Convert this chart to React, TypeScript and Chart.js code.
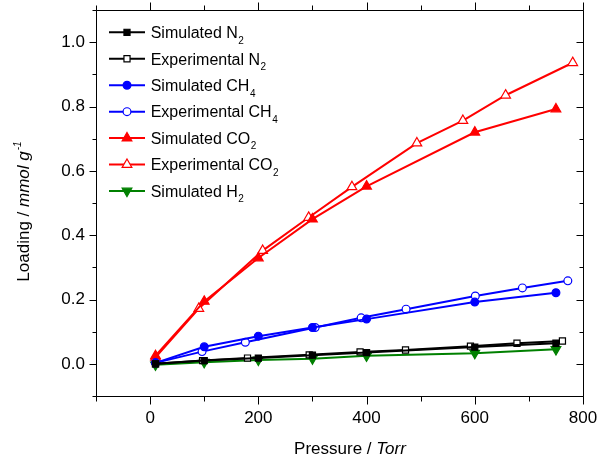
import React, { useEffect, useRef } from 'react';
import { Chart, registerables } from 'chart.js';

Chart.register(...registerables);

// ---- data ----
const simPressure = [10, 100, 200, 300, 400, 600, 750];
const simN2 = [0, 0.010, 0.018, 0.027, 0.035, 0.052, 0.064];
const simCH4 = [0.003, 0.053, 0.086, 0.113, 0.139, 0.192, 0.221];
const simCO2 = [0.025, 0.194, 0.329, 0.450, 0.552, 0.720, 0.792];
const simH2 = [-0.003, 0.005, 0.012, 0.016, 0.025, 0.033, 0.045];

const expN2Pressure = [10, 97, 180, 294, 388, 472, 592, 678, 762];
const expN2 = [0, 0.010, 0.018, 0.028, 0.037, 0.043, 0.055, 0.064, 0.071];
const expCH4Pressure = [10, 96, 176, 305, 390, 473, 601, 688, 772];
const expCH4 = [0.003, 0.038, 0.067, 0.113, 0.143, 0.170, 0.211, 0.236, 0.258];
const expCO2Pressure = [10, 90, 208, 293, 373, 493, 578, 657, 781];
const expCO2 = [0.02, 0.172, 0.352, 0.455, 0.550, 0.686, 0.756, 0.835, 0.936];

const xMajorTicks = [0, 200, 400, 600, 800];
const xMinorTicks = [-100, 100, 300, 500, 700];
const yMajorTicks = [0, 0.2, 0.4, 0.6, 0.8, 1.0];
const yMinorTicks = [-0.1, 0.1, 0.3, 0.5, 0.7, 0.9, 1.1];

const legendMain = ['Simulated N', 'Experimental N', 'Simulated CH', 'Experimental CH', 'Simulated CO', 'Experimental CO', 'Simulated H'];
const legendSub = ['2', '2', '4', '4', '2', '2', '2'];

const FONT = '"Liberation Sans", Arial, Helvetica, sans-serif';
const BLACK = '#000000';
const BLUE = '#0000ff';
const RED = '#ff0000';
const GREEN = '#008000';

const pts = (xs: number[], ys: number[]) => xs.map((x, i) => ({ x, y: ys[i] }));

type Marker = { style: string; color: string; filled: boolean; radius: number; rotation: number };

const markers: Marker[] = [
  { style: 'rect', color: BLACK, filled: true, radius: 4.3, rotation: 0 },
  { style: 'rect', color: BLACK, filled: false, radius: 4.3, rotation: 0 },
  { style: 'circle', color: BLUE, filled: true, radius: 3.9, rotation: 0 },
  { style: 'circle', color: BLUE, filled: false, radius: 3.9, rotation: 0 },
  { style: 'triangle', color: RED, filled: true, radius: 5.6, rotation: 0 },
  { style: 'triangle', color: RED, filled: false, radius: 5.6, rotation: 0 },
  { style: 'triangle', color: GREEN, filled: true, radius: 5.6, rotation: 180 },
];

const seriesData = [
  pts(simPressure, simN2),
  pts(expN2Pressure, expN2),
  pts(simPressure, simCH4),
  pts(expCH4Pressure, expCH4),
  pts(simPressure, simCO2),
  pts(expCO2Pressure, expCO2),
  pts(simPressure, simH2),
];

function drawMarker(ctx: CanvasRenderingContext2D, m: Marker, cx: number, cy: number) {
  ctx.save();
  ctx.beginPath();
  const r = m.radius;
  if (m.style === 'rect') {
    const s = Math.SQRT1_2 * r;
    ctx.rect(cx - s, cy - s, 2 * s, 2 * s);
  } else if (m.style === 'circle') {
    ctx.arc(cx, cy, r, 0, Math.PI * 2);
  } else {
    let rad = (m.rotation * Math.PI) / 180;
    for (let k = 0; k < 3; k++) {
      const px = cx + Math.sin(rad) * r;
      const py = cy - Math.cos(rad) * r;
      if (k === 0) ctx.moveTo(px, py);
      else ctx.lineTo(px, py);
      rad += (2 * Math.PI) / 3;
    }
    ctx.closePath();
  }
  ctx.fillStyle = m.filled ? m.color : '#ffffff';
  ctx.fill();
  ctx.lineWidth = 1.2;
  ctx.strokeStyle = m.color;
  ctx.stroke();
  ctx.restore();
}

const decorPlugin = {
  id: 'decor',
  afterDraw(chart: any) {
    const ctx: CanvasRenderingContext2D = chart.ctx;
    const a = chart.chartArea;
    const xs = chart.scales.x;
    const ys = chart.scales.y;
    ctx.save();
    // frame
    ctx.strokeStyle = BLACK;
    ctx.lineWidth = 1;
    const L = Math.round(a.left) + 0.5;
    const R = Math.round(a.right) + 0.5;
    const T = Math.round(a.top) + 0.5;
    const B = Math.round(a.bottom) + 0.5;
    ctx.beginPath();
    ctx.rect(L, T, R - L, B - T);
    ctx.stroke();
    // ticks
    ctx.beginPath();
    const xTick = (v: number, len: number) => {
      const px = Math.round(xs.getPixelForValue(v)) + 0.5;
      ctx.moveTo(px, B);
      ctx.lineTo(px, B + len);
      ctx.moveTo(px, T);
      ctx.lineTo(px, T - len);
    };
    const yTick = (v: number, len: number) => {
      const py = Math.round(ys.getPixelForValue(v)) + 0.5;
      ctx.moveTo(L, py);
      ctx.lineTo(L - len, py);
      ctx.moveTo(R, py);
      ctx.lineTo(R - len, py);
    };
    xMajorTicks.forEach((v) => xTick(v, 8));
    xMinorTicks.forEach((v) => xTick(v, 5));
    yMajorTicks.forEach((v) => yTick(v, 7));
    yMinorTicks.forEach((v) => yTick(v, 4));
    ctx.stroke();

    // legend
    const rowY0 = 32.3;
    const rowStep = 26.45;
    legendMain.forEach((label, i) => {
      const y = rowY0 + i * rowStep;
      const m = markers[i];
      ctx.beginPath();
      ctx.strokeStyle = m.color;
      ctx.lineWidth = 2;
      ctx.moveTo(109, y);
      ctx.lineTo(145, y);
      ctx.stroke();
      drawMarker(ctx, m, 127, y);
      ctx.fillStyle = BLACK;
      ctx.textAlign = 'left';
      ctx.textBaseline = 'alphabetic';
      ctx.font = `16px ${FONT}`;
      const base = y + 5.8;
      ctx.fillText(label, 150.7, base);
      const w = ctx.measureText(label).width;
      ctx.font = `10px ${FONT}`;
      ctx.fillText(legendSub[i], 150.7 + w + 0.5, base + 5.5);
    });

    // x title
    ctx.fillStyle = BLACK;
    ctx.textBaseline = 'alphabetic';
    ctx.textAlign = 'left';
    const p1 = 'Pressure / ';
    const p2 = 'Torr';
    ctx.font = `17px ${FONT}`;
    const w1 = ctx.measureText(p1).width;
    ctx.font = `italic 17px ${FONT}`;
    const w2 = ctx.measureText(p2).width;
    const sx = 350 - (w1 + w2) / 2;
    ctx.font = `17px ${FONT}`;
    ctx.fillText(p1, sx, 454);
    ctx.font = `italic 17px ${FONT}`;
    ctx.fillText(p2, sx + w1, 454);

    // y title
    ctx.save();
    ctx.translate(28.5, 211.5);
    ctx.rotate(-Math.PI / 2);
    const q1 = 'Loading / ';
    const q2 = 'mmol g';
    const q3 = '-1';
    ctx.font = `17px ${FONT}`;
    const v1 = ctx.measureText(q1).width;
    ctx.font = `italic 17px ${FONT}`;
    const v2 = ctx.measureText(q2).width;
    ctx.font = `italic 10px ${FONT}`;
    const v3 = ctx.measureText(q3).width;
    const total = v1 + v2 + v3 + 1;
    let cx = -total / 2;
    ctx.font = `17px ${FONT}`;
    ctx.fillText(q1, cx, 0);
    cx += v1;
    ctx.font = `italic 17px ${FONT}`;
    ctx.fillText(q2, cx, 0);
    cx += v2 + 1;
    ctx.font = `italic 10px ${FONT}`;
    ctx.fillText(q3, cx, -8);
    ctx.restore();

    ctx.restore();
  },
};

export default function App() {
  const ref = useRef<HTMLCanvasElement | null>(null);
  useEffect(() => {
    if (!ref.current) return;
    const datasets = seriesData.map((data, i) => {
      const m = markers[i];
      return {
        label: legendMain[i] + legendSub[i],
        data,
        borderColor: m.color,
        backgroundColor: m.filled ? m.color : '#ffffff',
        pointBackgroundColor: m.filled ? m.color : '#ffffff',
        pointBorderColor: m.color,
        pointBorderWidth: 1.2,
        pointStyle: m.style,
        pointRotation: m.rotation,
        pointRadius: m.radius,
        pointHoverRadius: m.radius,
        borderWidth: 2,
        tension: 0,
        fill: false,
      };
    });
    const chart = new Chart(ref.current, {
      type: 'line',
      data: { datasets } as any,
      plugins: [decorPlugin],
      options: {
        animation: false,
        responsive: false,
        layout: { padding: { left: 0, right: 15, top: 10, bottom: 0 } },
        plugins: { legend: { display: false }, tooltip: { enabled: false } },
        scales: {
          x: {
            type: 'linear',
            min: -100,
            max: 800,
            afterBuildTicks: (s: any) => {
              s.ticks = xMajorTicks.map((v) => ({ value: v }));
            },
            afterFit: (s: any) => {
              s.height = 64;
              s.paddingLeft = 0;
              s.paddingRight = 0;
            },
            grid: { display: false, drawTicks: false },
            border: { display: false },
            ticks: {
              color: BLACK,
              font: { family: FONT, size: 17 },
              padding: 12,
              maxRotation: 0,
              autoSkip: false,
              callback: (v: any) => String(v),
            },
          },
          y: {
            type: 'linear',
            min: -0.1,
            max: 1.1,
            afterBuildTicks: (s: any) => {
              s.ticks = yMajorTicks.map((v) => ({ value: v }));
            },
            afterFit: (s: any) => {
              s.width = 96;
              s.paddingTop = 0;
              s.paddingBottom = 0;
            },
            grid: { display: false, drawTicks: false },
            border: { display: false },
            ticks: {
              color: BLACK,
              font: { family: FONT, size: 17 },
              padding: 11,
              autoSkip: false,
              callback: (v: any) => Number(v).toFixed(1),
            },
          },
        },
      } as any,
    });
    return () => chart.destroy();
  }, []);
  return (
    <div style={{ position: 'absolute', left: 0, top: 0, width: 598, height: 460, background: '#fff' }}>
      <canvas ref={ref} width={598} height={460} style={{ display: 'block' }} />
    </div>
  );
}
